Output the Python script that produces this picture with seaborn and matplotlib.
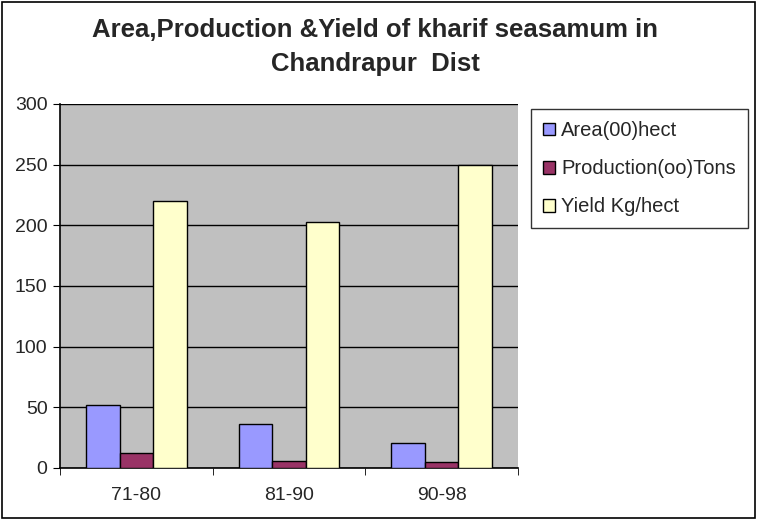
import pandas as pd
import matplotlib.pyplot as plt
import seaborn as sns
from matplotlib.patches import Rectangle

# values
periods = ['71-80', '81-90', '90-98']
area = [52, 36, 21]
production = [12, 6, 5]
yield_kg = [220, 203, 250]
series = ['Area(00)hect', 'Production(oo)Tons', 'Yield Kg/hect']
colors = ['#9999FF', '#993366', '#FFFFCC']

df = pd.DataFrame({
    'Period': periods * 3,
    'Value': area + production + yield_kg,
    'Series': [series[0]] * 3 + [series[1]] * 3 + [series[2]] * 3,
})

sns.set_style('white')
plt.rcParams['font.family'] = ['Liberation Sans', 'DejaVu Sans']

fig = plt.figure(figsize=(7.57, 5.19), dpi=100)
ax = fig.add_axes([60 / 757, 1 - 468 / 519, 458 / 757, 364 / 519])

sns.barplot(data=df, x='Period', y='Value', hue='Series', palette=colors,
            width=0.66, edgecolor='black', linewidth=1, saturation=1,
            ax=ax, legend=False, zorder=3)

ax.set_facecolor('#C0C0C0')
ax.set_ylim(0, 300)
ax.set_xlim(-0.5, 2.5)
ax.set_yticks(range(0, 301, 50))
ax.yaxis.grid(True, color='black', linewidth=1, zorder=0)
ax.set_axisbelow(True)
ax.set_xlabel('')
ax.set_ylabel('')
for s in ['top', 'right']:
    ax.spines[s].set_visible(False)
for s in ['left', 'bottom']:
    ax.spines[s].set_color('black')
    ax.spines[s].set_linewidth(1.2)
ax.tick_params(axis='y', left=True, length=5, color='black', labelsize=14, pad=4)
ax.tick_params(axis='x', which='major', length=0, labelsize=14, pad=14)
ax.set_xticks([-0.5, 0.5, 1.5, 2.5], minor=True)
ax.tick_params(axis='x', which='minor', bottom=True, length=5, color='black')

fig.text(375 / 757, 1 - 30 / 519, 'Area,Production &Yield of kharif seasamum in',
         ha='center', va='center', fontsize=18.5, fontweight='bold')
fig.text(375 / 757, 1 - 64 / 519, 'Chandrapur  Dist',
         ha='center', va='center', fontsize=18.5, fontweight='bold')

handles = [Rectangle((0, 0), 1, 1, facecolor=c, edgecolor='black', linewidth=1)
           for c in colors]
leg = fig.legend(handles, series, loc='upper left',
                 bbox_to_anchor=(531 / 757, 1 - 109 / 519),
                 frameon=True, fontsize=14.5, handlelength=0.6, handleheight=0.6,
                 handletextpad=0.3, labelspacing=0.95, borderpad=0.6,
                 borderaxespad=0, fancybox=False, edgecolor='black')
leg.get_frame().set_linewidth(1)

fig.patches.append(Rectangle((0.002, 0.002), 0.996, 0.995, transform=fig.transFigure,
                             fill=False, edgecolor='black', linewidth=1.2))

plt.savefig('out.png', dpi=100)
